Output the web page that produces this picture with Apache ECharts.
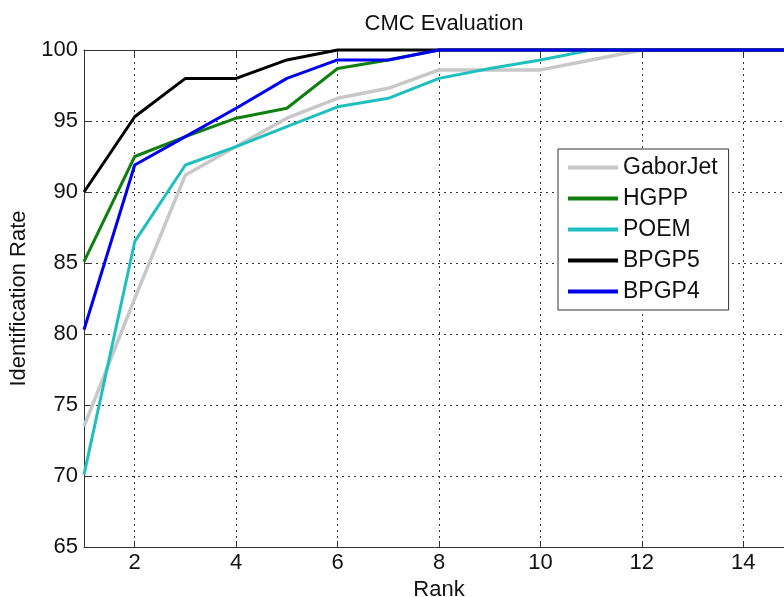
<!DOCTYPE html>
<html>
<head>
<meta charset="utf-8">
<script src="https://cdn.jsdelivr.net/npm/echarts@6/dist/echarts.min.js"></script>
<style>
  html, body { margin: 0; padding: 0; background: #fff; }
  #chart { width: 784px; height: 597px; }
</style>
</head>
<body>
<div id="chart"></div>
<script>
// CMC curves, values
const ranks = [1, 2, 3, 4, 5, 6, 7, 8, 9, 10, 11, 12, 13, 14, 15];
const rankTicks = [2, 4, 6, 8, 10, 12, 14];
const gaborJet = [73.5, 82.5, 91.2, 93.2, 95.2, 96.6, 97.3, 98.6, 98.6, 98.6, 99.3, 100, 100, 100, 100];
const hgpp = [85.1, 92.5, 93.9, 95.2, 95.9, 98.7, 99.3, 100, 100, 100, 100, 100, 100, 100, 100];
const poem = [70.1, 86.5, 91.9, 93.2, 94.6, 96.0, 96.6, 98.0, 98.7, 99.3, 100, 100, 100, 100, 100];
const bpgp5 = [90.0, 95.3, 98.0, 98.0, 99.3, 100, 100, 100, 100, 100, 100, 100, 100, 100, 100];
const bpgp4 = [80.3, 91.9, 93.9, 95.9, 98.0, 99.3, 99.3, 100, 100, 100, 100, 100, 100, 100, 100];

const seriesNames = ['GaborJet', 'HGPP', 'POEM', 'BPGP5', 'BPGP4'];
const seriesData = [gaborJet, hgpp, poem, bpgp5, bpgp4];
const seriesColors = ['#c8c8c8', '#0f7f0f', '#1fbfbf', '#000000', '#0000ee'];
const seriesWidths = [3.5, 3, 3, 3, 3];

const font = 'Liberation Sans, Arial, sans-serif';
const chart = echarts.init(document.getElementById('chart'));

const option = {
    animation: false,
    backgroundColor: '#fff',
    title: {
        text: 'CMC Evaluation',
        left: 439,
        top: 8,
        textAlign: 'center',
        textStyle: { fontFamily: font, fontSize: 22, fontWeight: 'normal', color: '#111' }
    },
    legend: {
        orient: 'vertical',
        left: 558,
        top: 149,
        data: seriesNames,
        icon: 'rect',
        itemWidth: 50,
        itemHeight: 4,
        itemGap: 8,
        padding: [7, 11, 7, 10],
        borderColor: '#333',
        borderWidth: 1,
        backgroundColor: '#fff',
        textStyle: { fontFamily: font, fontSize: 23, color: '#111' }
    },
    grid: { left: 84, top: 50, right: -10, bottom: 50, outerBoundsMode: 'none', containLabel: false },
    xAxis: [
        {
            type: 'value',
            min: 1,
            max: 15,
            name: 'Rank',
            nameLocation: 'middle',
            nameGap: 21,
            nameTextStyle: { fontFamily: font, fontSize: 22, color: '#111' },
            axisLine: { show: true, onZero: false, lineStyle: { color: '#333', width: 1 } },
            axisTick: { show: true, inside: true, length: 6, customValues: rankTicks, lineStyle: { color: '#333' } },
            axisLabel: {
                customValues: rankTicks,
                margin: 5,
                fontFamily: font, fontSize: 22, color: '#111'
            },
            splitLine: { show: true, lineStyle: { color: '#333', type: [2, 4], width: 1 } }
        },
        {
            type: 'value',
            position: 'top',
            min: 1,
            max: 15,
            axisLine: { show: true, onZero: false, lineStyle: { color: '#333', width: 1 } },
            axisTick: { show: true, inside: true, length: 6, customValues: rankTicks, lineStyle: { color: '#333' } },
            axisLabel: { show: false },
            splitLine: { show: false }
        }
    ],
    yAxis: {
        type: 'value',
        min: 65,
        max: 100,
        interval: 5,
        name: 'Identification Rate',
        nameLocation: 'middle',
        nameGap: 51,
        nameTextStyle: { fontFamily: font, fontSize: 22, color: '#111' },
        axisLine: { show: true, onZero: false, lineStyle: { color: '#333', width: 1 } },
        axisTick: { show: true, inside: true, length: 6, lineStyle: { color: '#333' } },
        axisLabel: { margin: 6, fontFamily: font, fontSize: 22, color: '#111' },
        splitLine: { show: true, lineStyle: { color: '#333', type: [2, 4], width: 1 } }
    },
    series: seriesNames.map((name, i) => ({
        name: name,
        type: 'line',
        xAxisIndex: 0,
        data: ranks.map((r, j) => [r, seriesData[i][j]]),
        symbol: 'none',
        clip: false,
        color: seriesColors[i],
        lineStyle: { color: seriesColors[i], width: seriesWidths[i] },
        itemStyle: { color: seriesColors[i] },
        z: 2 + i
    }))
};

chart.setOption(option);
</script>
</body>
</html>
